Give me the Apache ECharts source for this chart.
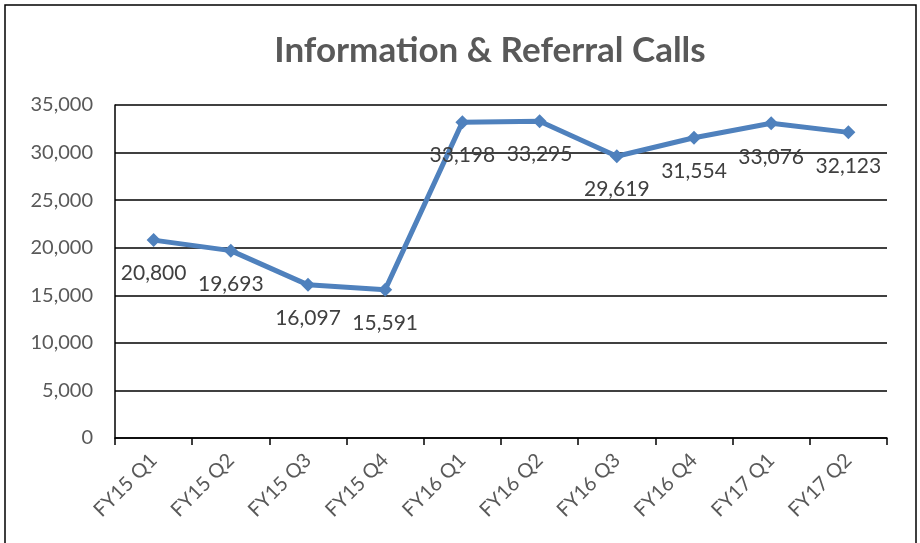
<!DOCTYPE html>
<html>
<head>
<meta charset="utf-8">
<script src="https://cdn.jsdelivr.net/npm/echarts@6/dist/echarts.min.js"></script>
<style>
html,body{margin:0;padding:0;background:#fff;}
#chart{width:920px;height:543px;}
</style>
</head>
<body>
<div id="chart"></div>
<script>
const categories = ['FY15 Q1','FY15 Q2','FY15 Q3','FY15 Q4','FY16 Q1','FY16 Q2','FY16 Q3','FY16 Q4','FY17 Q1','FY17 Q2'];
const calls = [20800, 19693, 16097, 15591, 33198, 33295, 29619, 31554, 33076, 32123];
const yMin = 0, yMax = 35000, yStep = 5000;
const titleText = 'Information & Referral Calls';

const FONT = 'Lato, "Liberation Sans", sans-serif';
const chart = echarts.init(document.getElementById('chart'));
chart.setOption({
  backgroundColor: '#fff',
  animation: false,
  graphic: [{
    type: 'rect',
    shape: {x: 5, y: 5, width: 911, height: 560},
    style: {fill: 'none', stroke: '#000', lineWidth: 1.5},
    silent: true
  }],
  title: {
    text: titleText,
    left: 485, top: 28, textAlign: 'center',
    textStyle: {fontFamily: FONT, fontWeight: 'bold', fontSize: 35, color: '#595959'}
  },
  grid: {left: 115, right: 33, top: 105, bottom: 105, containLabel: false},
  xAxis: {
    type: 'category',
    data: categories,
    boundaryGap: true,
    axisLine: {show: true, lineStyle: {color: '#000', width: 1.5}},
    axisTick: {show: true, length: 7, lineStyle: {color: '#000', width: 1.5}},
    axisLabel: {rotate: 45, margin: 19, padding: [22, 0, 0, 0], fontFamily: FONT, fontSize: 20, color: '#595959'}
  },
  yAxis: {
    type: 'value',
    min: yMin, max: yMax, interval: yStep,
    axisLine: {show: true, lineStyle: {color: '#000', width: 1.5}},
    axisTick: {show: false},
    splitLine: {show: true, lineStyle: {color: '#000', width: 1.5}},
    axisLabel: {
      margin: 22, fontFamily: FONT, fontSize: 20, color: '#595959',
      formatter: v => v.toLocaleString('en-US')
    }
  },
  series: [{
    type: 'line',
    data: calls,
    symbol: 'diamond',
    symbolSize: 14,
    lineStyle: {color: '#4F81BD', width: 5},
    itemStyle: {color: '#4F81BD'},
    label: {
      show: true, position: 'bottom', distance: 16,
      fontFamily: FONT, fontSize: 21, color: '#404040',
      formatter: p => p.value.toLocaleString('en-US')
    }
  }]
});
</script>
</body>
</html>
